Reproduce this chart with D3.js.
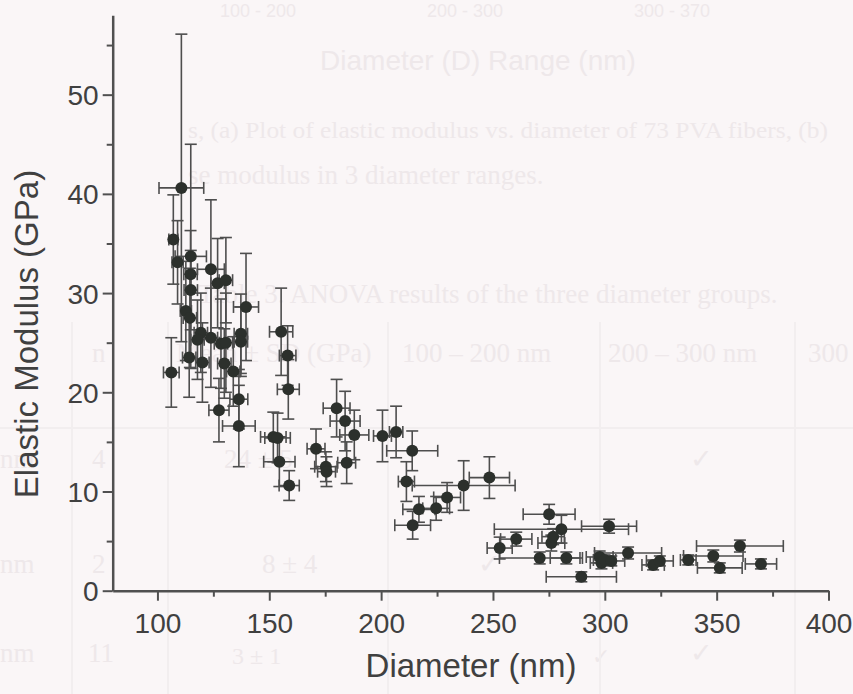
<!DOCTYPE html>
<html>
<head>
<meta charset="utf-8">
<script src="https://cdn.jsdelivr.net/npm/d3@7"></script>
<style>
  body { margin: 0; background: #faf6f7; }
  svg { display: block; }
</style>
</head>
<body>
<div id="chart"></div>
<script>
// diameter (nm), modulus (GPa) and their error bars
var diameter = [107.1, 110.7, 109.0, 106.2, 114.9, 114.8, 123.9, 126.9, 130.6, 114.9,
  112.7, 114.5, 139.6, 119.4, 117.9, 123.9, 128.4, 130.6, 137.3, 137.3,
  114.2, 120.1, 129.9, 133.9, 136.4, 127.5, 136.4,
  155.3, 158.2, 158.5, 151.8, 153.7, 154.5, 158.9,
  170.9, 175.3, 175.6, 180.1, 183.9, 184.6, 188.0, 200.6, 206.7, 213.9,
  211.3, 214.1, 216.9, 224.6, 229.5, 236.9, 248.4,
  253.0, 260.4, 270.9, 275.1, 276.1, 276.9, 280.6, 282.8, 289.5, 297.7,
  298.5, 299.9, 301.9, 302.9, 310.4, 321.6, 324.6, 337.3, 348.5, 351.4,
  360.4, 369.8]
var modulus = [35.4, 40.6, 33.1, 22.0, 33.7, 31.9, 32.4, 31.0, 31.3, 30.3,
  28.2, 27.5, 28.6, 26.0, 25.3, 25.5, 24.9, 25.0, 25.9, 25.1,
  23.5, 23.0, 22.9, 22.1, 19.3, 18.2, 16.6,
  26.1, 23.7, 20.3, 15.5, 15.4, 13.0, 10.6,
  14.3, 12.5, 12.0, 18.4, 17.1, 12.9, 15.7, 15.6, 16.0, 14.1,
  11.0, 6.6, 8.2, 8.3, 9.4, 10.6, 11.4,
  4.3, 5.2, 3.3, 7.7, 4.8, 5.45, 6.2, 3.3, 1.4, 3.4,
  2.8, 3.1, 6.5, 3.0, 3.8, 2.6, 3.0, 3.1, 3.5, 2.3,
  4.5, 2.7]
var diameterErr = [2, 10, 2.5, 3.5, 7, 3, 6, 3, 3, 3,
  2.5, 3, 5.6, 3, 3, 3, 3, 3, 3, 3,
  3, 3, 3, 3, 4, 4.5, 7.3,
  5.2, 3.7, 4.9, 5.7, 5.7, 7, 4.5,
  4, 5, 4, 6, 6.7, 4, 6.5, 4, 3, 11.4,
  3.6, 8, 7.2, 6, 6, 23, 9,
  5.6, 7, 18, 11.6, 6, 5, 30, 7.2, 15.7, 6,
  5, 5, 12.3, 6, 15, 5, 6, 3.5, 13.3, 10,
  19.4, 7]
var modulusErr = [4.5, 15.5, 4.2, 3.5, 11.3, 4.4, 7, 4.5, 4.3, 4,
  5, 5, 5.4, 4, 4, 5, 4.5, 5, 4, 3.5,
  4, 4, 3.5, 3.5, 3, 3.2, 4.1,
  4.4, 3, 3, 2.5, 2.5, 2.5, 1.5,
  2, 1.5, 1.5, 2.9, 3, 2.1, 2.5, 2.6, 2.6, 2,
  2, 1.4, 1.3, 1.2, 1.5, 2.5, 2.1,
  1.1, 0.7, 0.6, 1, 0.8, 0.8, 1.4, 0.6, 0.5, 0.6,
  0.6, 0.5, 0.7, 0.5, 0.6, 0.5, 0.5, 0.5, 0.6, 0.5,
  0.6, 0.5]

var xTicks = [100, 150, 200, 250, 300, 350, 400]
var xMinor = [125, 175, 225, 275, 325, 375]
var yTicks = [0, 10, 20, 30, 40, 50]
var yMinor = [5, 15, 25, 35, 45, 55]

var width = 853, height = 694
var svg = d3.select("#chart").append("svg")
  .attr("width", width)
  .attr("height", height)

// faint show-through of the printed page behind the figure
var ghostColor = "#eee8ea"
var ghost = svg.append("g")
  .attr("fill", ghostColor)
  .attr("font-family", "Liberation Serif, Times New Roman, serif")
function ghostText(x, y, size, txt, sans) {
  var t = ghost.append("text").attr("x", x).attr("y", y).attr("font-size", size).text(txt)
  if (sans) t.attr("font-family", "Liberation Sans, Arial, sans-serif").attr("text-anchor", "middle")
  return t
}
ghostText(258, 17, 18, "100 - 200", true)
ghostText(465, 17, 18, "200 - 300", true)
ghostText(672, 17, 18, "300 - 370", true)
ghostText(478, 70, 28, "Diameter (D) Range (nm)", true)
ghostText(188, 138, 23, "s, (a) Plot of elastic modulus vs. diameter of 73 PVA fibers, (b)")
  .attr("textLength", 640).attr("lengthAdjust", "spacingAndGlyphs")
ghostText(188, 184, 27, "se modulus in 3 diameter ranges.")
ghostText(198, 303, 27, "Table 3. ANOVA results of the three diameter groups.")
ghostText(92, 362, 27, "n")
ghostText(176, 362, 27, "Mean ± SD (GPa)")
ghostText(402, 362, 27, "100 – 200 nm")
ghostText(608, 362, 27, "200 – 300 nm")
ghostText(808, 362, 27, "300")
ghostText(0, 468, 27, "nm")
ghostText(92, 468, 27, "4")
ghostText(224, 468, 27, "24 ± 5")
ghostText(690, 468, 27, "✓")
ghostText(0, 573, 27, "nm")
ghostText(92, 573, 27, "2")
ghostText(262, 573, 27, "8 ± 4")
ghostText(478, 573, 27, "✓")
ghostText(0, 662, 27, "nm")
ghostText(88, 662, 27, "11")
ghostText(232, 664, 24, "3 ± 1")
ghostText(592, 664, 22, "✓")
ghostText(690, 662, 27, "✓")
var gridX = [72, 168, 388, 600, 795]
ghost.selectAll(".gv").data(gridX).enter().append("line")
  .attr("x1", function(d) { return d }).attr("x2", function(d) { return d })
  .attr("y1", 322).attr("y2", 694)
  .attr("stroke", "#f2eeef").attr("stroke-width", 2)
ghost.append("line").attr("x1", 0).attr("x2", 853).attr("y1", 428).attr("y2", 428)
  .attr("stroke", "#f2eeef").attr("stroke-width", 2)

var x = d3.scaleLinear().domain([80, 400]).range([112.7, 828.5])
var y = d3.scaleLinear().domain([0, 58]).range([590.7, 15.3])

var axisColor = "#505050"
var textColor = "#404040"

// minor ticks first, then major axes over them
svg.append("g")
  .attr("transform", "translate(0," + y(0) + ")")
  .call(d3.axisBottom(x).tickValues(xMinor).tickSize(6).tickFormat(""))
  .call(function(g) { g.select(".domain").remove() })
  .selectAll("line").attr("stroke", axisColor).attr("stroke-width", 2)
svg.append("g")
  .attr("transform", "translate(" + x(80) + ",0)")
  .call(d3.axisLeft(y).tickValues(yMinor).tickSize(6).tickFormat(""))
  .call(function(g) { g.select(".domain").remove() })
  .selectAll("line").attr("stroke", axisColor).attr("stroke-width", 2)

var xAxis = svg.append("g")
  .attr("transform", "translate(0," + y(0) + ")")
  .call(d3.axisBottom(x).tickValues(xTicks).tickSize(10).tickSizeOuter(0).tickPadding(12))
var yAxis = svg.append("g")
  .attr("transform", "translate(" + x(80) + ",0)")
  .call(d3.axisLeft(y).tickValues(yTicks).tickSize(10).tickSizeOuter(0).tickPadding(4))

;[xAxis, yAxis].forEach(function(g) {
  g.select(".domain").attr("stroke", axisColor).attr("stroke-width", 2.5)
  g.selectAll(".tick line").attr("stroke", axisColor).attr("stroke-width", 2)
  g.selectAll(".tick text")
    .attr("fill", textColor)
    .attr("font-family", "Liberation Sans, Arial, sans-serif")
    .attr("font-size", 28)
})
yAxis.selectAll(".tick text").attr("dy", "0.36em")

svg.append("text")
  .attr("x", 471).attr("y", 677)
  .attr("text-anchor", "middle")
  .attr("fill", textColor)
  .attr("font-family", "Liberation Sans, Arial, sans-serif")
  .attr("font-size", 33)
  .text("Diameter (nm)")
svg.append("text")
  .attr("transform", "translate(38,334) rotate(-90)")
  .attr("text-anchor", "middle")
  .attr("fill", textColor)
  .attr("font-family", "Liberation Sans, Arial, sans-serif")
  .attr("font-size", 33)
  .text("Elastic Modulus (GPa)")

var data = diameter.map(function(d, i) {
  return { x: d, y: modulus[i], ex: diameterErr[i], ey: modulusErr[i] }
})

var cap = 6
var bars = svg.append("g")
  .attr("stroke", "#4e4e4e")
  .attr("stroke-width", 1.6)
  .attr("fill", "none")

var eb = bars.selectAll(".err").data(data).enter().append("g")
eb.append("line")
  .attr("x1", function(d) { return x(d.x) }).attr("x2", function(d) { return x(d.x) })
  .attr("y1", function(d) { return y(d.y - d.ey) }).attr("y2", function(d) { return y(d.y + d.ey) })
eb.append("line")
  .attr("x1", function(d) { return x(d.x) - cap }).attr("x2", function(d) { return x(d.x) + cap })
  .attr("y1", function(d) { return y(d.y + d.ey) }).attr("y2", function(d) { return y(d.y + d.ey) })
eb.append("line")
  .attr("x1", function(d) { return x(d.x) - cap }).attr("x2", function(d) { return x(d.x) + cap })
  .attr("y1", function(d) { return y(d.y - d.ey) }).attr("y2", function(d) { return y(d.y - d.ey) })
eb.append("line")
  .attr("x1", function(d) { return x(d.x - d.ex) }).attr("x2", function(d) { return x(d.x + d.ex) })
  .attr("y1", function(d) { return y(d.y) }).attr("y2", function(d) { return y(d.y) })
eb.append("line")
  .attr("x1", function(d) { return x(d.x - d.ex) }).attr("x2", function(d) { return x(d.x - d.ex) })
  .attr("y1", function(d) { return y(d.y) - cap }).attr("y2", function(d) { return y(d.y) + cap })
eb.append("line")
  .attr("x1", function(d) { return x(d.x + d.ex) }).attr("x2", function(d) { return x(d.x + d.ex) })
  .attr("y1", function(d) { return y(d.y) - cap }).attr("y2", function(d) { return y(d.y) + cap })

svg.append("g").selectAll("circle")
  .data(data)
  .enter()
  .append("circle")
  .attr("cx", function(d) { return x(d.x) })
  .attr("cy", function(d) { return y(d.y) })
  .attr("r", 6)
  .attr("fill", "#2c302c")
</script>
</body>
</html>
